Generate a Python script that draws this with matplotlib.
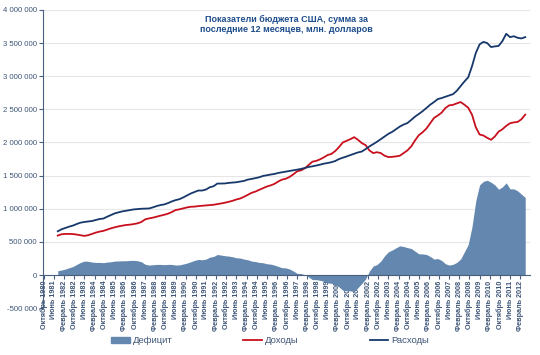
import numpy as np
import matplotlib.pyplot as plt
from matplotlib.ticker import FuncFormatter
from matplotlib.patches import Patch
from matplotlib.lines import Line2D

plt.rcParams['font.family'] = ['Liberation Sans', 'DejaVu Sans']

# rolling 12-month sums, quarterly points (Sep 1981 .. Jun 2012), billions of dollars
outlays = [
    660, 690, 710, 730,
    746, 770, 790, 800,
    808, 815, 830, 845,
    852, 880, 905, 930,
    946, 960, 970, 980,
    990, 995, 1000, 1002,
    1004, 1020, 1040, 1055,
    1065, 1085, 1110, 1130,
    1144, 1170, 1200, 1230,
    1253, 1275, 1275, 1290,
    1324, 1340, 1380, 1380,
    1382, 1390, 1395, 1400,
    1410, 1420, 1440, 1450,
    1462, 1475, 1495, 1505,
    1516, 1525, 1540, 1550,
    1560, 1570, 1580, 1590,
    1601, 1615, 1630, 1640,
    1652, 1665, 1680, 1690,
    1702, 1720, 1750, 1770,
    1789, 1810, 1830, 1850,
    1863, 1900, 1940, 1975,
    2011, 2050, 2090, 2130,
    2160, 2200, 2240, 2270,
    2293, 2340, 2390, 2430,
    2472, 2520, 2570, 2610,
    2655, 2670, 2690, 2710,
    2729, 2780, 2850, 2920,
    2983, 3150, 3350, 3480,
    3518, 3500, 3440, 3450,
    3457, 3530, 3640, 3590,
    3603, 3580, 3570, 3590,
]
receipts = [
    595, 615, 620, 620,
    618, 610, 600, 590,
    601, 620, 640, 655,
    666, 685, 705, 720,
    734, 745, 755, 760,
    769, 780, 800, 840,
    854, 865, 880, 895,
    909, 925, 950, 980,
    991, 1005, 1020, 1030,
    1032, 1040, 1045, 1050,
    1055, 1060, 1070, 1080,
    1091, 1105, 1120, 1140,
    1154, 1180, 1210, 1240,
    1259, 1285, 1310, 1335,
    1352, 1375, 1410, 1440,
    1453, 1480, 1520, 1565,
    1579, 1610, 1660, 1710,
    1722, 1745, 1775, 1810,
    1827, 1870, 1930, 2000,
    2025, 2050, 2080, 2040,
    1991, 1960, 1880, 1840,
    1853, 1840, 1800, 1780,
    1783, 1790, 1800, 1840,
    1880, 1940, 2030, 2110,
    2154, 2210, 2290, 2370,
    2407, 2450, 2520, 2560,
    2568, 2590, 2610, 2570,
    2524, 2420, 2230, 2120,
    2105, 2070, 2040, 2090,
    2163, 2200, 2250, 2290,
    2303, 2310, 2350, 2420,
]

outlays = np.array(outlays) * 1000.0   # million dollars
receipts = np.array(receipts) * 1000.0
deficit = outlays - receipts

# month index counted from October 1980; first point is September 1981
x = 11 + 3 * np.arange(len(outlays))

tick_months = ['Октябрь', 'Июнь', 'Февраль']
tick_pos = np.arange(0, 377, 8)
tick_labels = []
for i, p in enumerate(tick_pos):
    year = 1980 + (9 + p) // 12
    tick_labels.append(f'{tick_months[i % 3]} {year}')

fig = plt.figure(figsize=(5.4, 3.55), dpi=100)
ax = fig.add_axes([0.08, 0.132, 0.902, 0.84])

ax.fill_between(x, 0, deficit, color='#6387ae', lw=0, zorder=2)
ax.plot(x, receipts, color='#c8101e', lw=1.3, zorder=3)
ax.plot(x, outlays, color='#17386b', lw=1.3, zorder=4)

for s in ['top', 'right']:
    ax.spines[s].set_visible(False)
ax.spines['left'].set_color('#4a5f80')
ax.spines['bottom'].set_color('#4a5f80')
ax.spines['bottom'].set_position(('data', 0))
ax.spines['bottom'].set_zorder(5)

ax.set_xlim(-0.5, 384)
ax.set_ylim(-500000, 4000000)
ax.set_yticks(np.arange(-500000, 4000001, 500000))
ax.yaxis.set_major_formatter(FuncFormatter(lambda v, p: f'{int(v):,}'.replace(',', ' ')))
ax.grid(axis='y', color='#e6e6e6', lw=0.8, zorder=0)
ax.set_axisbelow(True)

ax.set_xticks(tick_pos)
ax.set_xticklabels(tick_labels, rotation=90, fontsize=5.2, color='#3e5577', fontweight='bold')
ax.tick_params(axis='y', labelsize=5.6, labelcolor='#3e5577', length=3, color='#4a5f80',
               width=0.8, pad=1.5)
ax.tick_params(axis='x', length=3, color='#4a5f80', width=0.8, pad=1)

ax.text(0.5, 0.985, 'Показатели бюджета США, сумма за\nпоследние 12 месяцев, млн. долларов',
        transform=ax.transAxes, ha='center', va='top', fontsize=6.5, fontweight='bold',
        color='#1f4e8c', linespacing=1.2, zorder=6)

handles = [Patch(color='#6387ae'),
           Line2D([], [], color='#c8101e', lw=1.3),
           Line2D([], [], color='#17386b', lw=1.3)]
fig.legend(handles, ['Дефицит', 'Доходы', 'Расходы'], loc='center', ncol=3,
           bbox_to_anchor=(0.5, 0.04), frameon=False, fontsize=6.8,
           columnspacing=7.5, handlelength=2.0, handletextpad=0.3,
           labelcolor='#3e5577')

fig.savefig('out.png', dpi=100)
